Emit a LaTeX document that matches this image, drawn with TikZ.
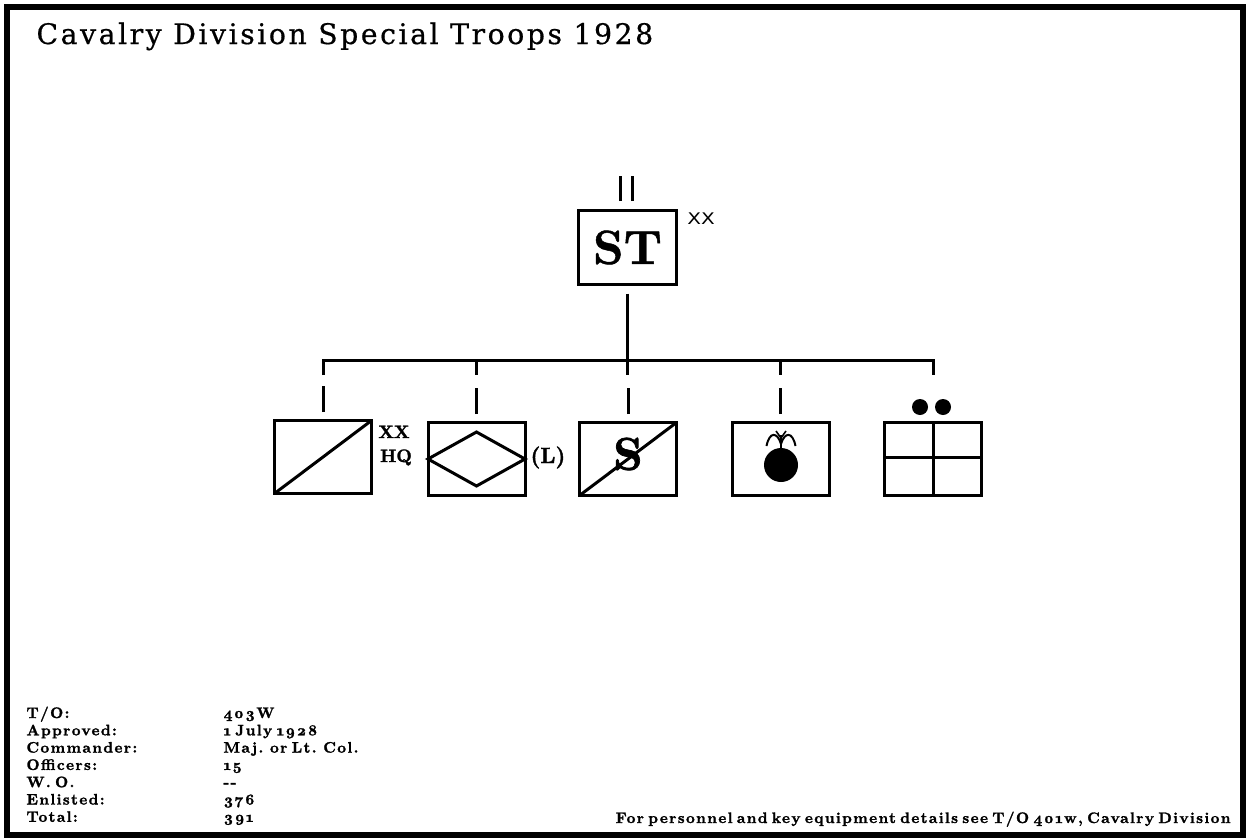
\documentclass[tikz,border=0pt]{standalone}
\usepackage{fontspec}
\usepackage{graphicx}
\newfontfamily\titlefont{DejaVu Serif}[LetterSpace=9, FakeBold=0.6]
\newfontfamily\infofont{lmroman10-bold.otf}[Numbers=OldStyle, LetterSpace=9, WordSpace=0.6, FakeBold=1.6]
\newfontfamily\lblfont{lmroman10-bold.otf}[FakeBold=1.6]
\newfontfamily\stfont{lmroman10-bold.otf}[FakeBold=1]
\newfontfamily\xxfont{DejaVu Sans}
\begin{document}
\begin{tikzpicture}[x=1pt,y=-1pt,line width=3pt,
  unit/.style={draw, line width=3pt, minimum width=97pt, minimum height=73pt, inner sep=0pt, outer sep=0pt},
  info/.style={font=\infofont\fontsize{15.2}{17}\selectfont, inner sep=0pt, anchor=base west},
  lbl/.style={font=\lblfont\fontsize{18}{18}\selectfont, inner sep=0pt, anchor=base},
  conn/.style={line width=3pt},
  sym/.style={line width=2pt}]
\useasboundingbox (0,0) rectangle (1247,838);
\draw[line width=6pt] (6.5,6.5) rectangle (1243,835);
% title
\node[font=\titlefont\fontsize{28.3}{30}\selectfont, anchor=base west, inner sep=0pt] (title) at (35,44) {Cavalry Division Special Troops 1928};
% top unit
\node[unit, minimum width=98pt, minimum height=74pt, font=\stfont\fontsize{48}{50}\selectfont] (st) at (627.5,247.5) {ST};
\draw[conn] ([xshift=-7pt,yshift=9.5pt]st.north) -- ++(0,-25);
\draw[conn] ([xshift=5pt,yshift=9.5pt]st.north) -- ++(0,-25);
\node[font=\xxfont\fontsize{16}{16}\selectfont, inner sep=0pt] (stxx) at (701,219) {\scalebox{1.25}[1]{XX}};
% subordinate units
\node[unit] (b1) at (323,457) {};
\node[unit] (b2) at (476.5,459) {};
\node[unit] (b3) at (628,459) {};
\node[unit] (b4) at (780.5,459) {};
\node[unit] (b5) at (933,459) {};
% connectors
\coordinate (bary) at (0,360);
\coordinate (tickend) at (0,375);
\draw[conn] (b1.north |- tickend) -- (b1.north |- bary) -- (b5.north |- bary) -- (b5.north |- tickend);
\draw[conn] ([yshift=-9pt]st.south) -- (st.south |- tickend);
\draw[conn] (b2.north |- bary) -- (b2.north |- tickend);
\draw[conn] (b4.north |- bary) -- (b4.north |- tickend);
\foreach \b in {b1,b2,b3,b4}
  \draw[conn] ([yshift=8.5pt]\b.north) -- ([yshift=34.5pt]\b.north);
% box 1: HQ
\draw[conn] (b1.south west) -- (b1.north east);
\node[lbl] (b1xx) at (394,438) {XX};
\node[lbl] (b1hq) at (396,462) {HQ};
% box 2: diamond (L)
\draw[conn, line join=miter] (b2.west) -- ([yshift=27pt]b2.center) -- (b2.east) -- ([yshift=-27pt]b2.center) -- cycle;
\node[lbl, font=\lblfont\fontsize{22}{22}\selectfont, anchor=base west] (b2l) at (529,463) {(L)};
% box 3: signal
\node[font=\lblfont\fontsize{46}{46}\selectfont, inner sep=0pt] (b3s) at (628,454) {S};
\draw[conn] (b3.south west) -- (b3.north east);
% box 4: ordnance
\begin{scope}[shift={(b4.center)}]
  \fill (0.5,6) circle (17pt);
  \draw[sym] (0.5,-8) -- (0.5,-24);
  \draw[sym] (0.5,-15) .. controls (-3,-27) and (-11,-28) .. (-14,-13);
  \draw[sym] (0.5,-15) .. controls (4,-27) and (12,-28) .. (15,-13);
  \draw[line width=1.6pt] (0.5,-21) -- (-4.5,-28);
  \draw[line width=1.6pt] (0.5,-21) -- (5.5,-28);
\end{scope}
% box 5: cross + dots
\draw[conn] (b5.north) -- (b5.south);
\draw[conn] ([yshift=2pt]b5.west) -- ([yshift=2pt]b5.east);
\fill ([shift={(-13,-52)}]b5.center) circle (8pt);
\fill ([shift={(10,-52)}]b5.center) circle (8pt);
% info block
\foreach \lab [count=\i] in {T/O:,Approved:,Commander:,Officers:,W. O.,Enlisted:,Total:}
  \node[info] (lab\i) at (25,700.7+17.3*\i) {\lab};
\foreach \val [count=\i] in {403W,1 July 1928,Maj. or Lt. Col.,15,--,376,391}
  \node[info] (val\i) at (222,700.7+17.3*\i) {\val};
\node[info, anchor=base east] (foot) at (1232,823) {For personnel and key equipment details see T/O 401w, Cavalry Division};
\end{tikzpicture}
\end{document}
